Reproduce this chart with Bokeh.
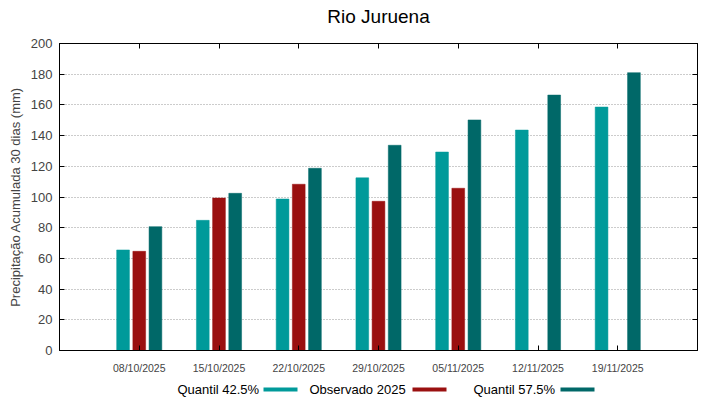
import math
from bokeh.plotting import figure
from bokeh.layouts import column
from bokeh.models import (ColumnDataSource, FactorRange, Range1d, CategoricalAxis,
                          LinearAxis, FixedTicker)
from bokeh.core.properties import value
from bokeh.transform import dodge
from bokeh.embed import file_html
from bokeh.resources import INLINE

nan = float("nan")
title_text = "Rio Juruena"
dates = ["08/10/2025", "15/10/2025", "22/10/2025", "29/10/2025",
         "05/11/2025", "12/11/2025", "19/11/2025"]
q425 = [65.5, 84.8, 98.7, 112.5, 129.3, 143.6, 158.6]
obs2025 = [64.6, 99.3, 108.3, 97.2, 105.7, nan, nan]
q575 = [80.7, 102.4, 118.7, 133.7, 150.2, 166.4, 181.0]
series_names = ["Quantil 42.5%", "Observado 2025", "Quantil 57.5%"]
colors = ["#009a9a", "#9a1010", "#006868"]
yticks = [0, 20, 40, 60, 80, 100, 120, 140, 160, 180, 200]

FONT = "Liberation Sans"
W = 719
BL, BR = 59, 22


def strip(h):
    f = figure(width=W, height=h, x_range=Range1d(BL, W - BR), y_range=Range1d(h, 0),
               output_backend="svg", toolbar_location=None, min_border=0,
               min_border_left=BL, min_border_right=BR,
               x_axis_type=None, y_axis_type=None, title_location=None)
    f.grid.visible = False
    f.outline_line_color = None
    return f


# title strip
TH = 30
tf = strip(TH)
tf.text(x=[(BL + W - BR) / 2], y=[16], text=[title_text], text_font=value(FONT),
        text_font_size="19px", text_color="#000000", text_align="center",
        text_baseline="alphabetic")

src = ColumnDataSource(dict(d=dates, q425=q425, obs=obs2025, q575=q575))

p = figure(width=W, height=346, x_range=FactorRange(*dates, range_padding=1/7),
           y_range=Range1d(0, 200), output_backend="svg", toolbar_location=None,
           min_border_left=BL, min_border_right=BR, min_border_top=13,
           min_border_bottom=26, title_location=None)

w = 0.16
off = 0.203
for col, o, c in zip(["q425", "obs", "q575"], [-off, 0, off], colors):
    p.vbar(x=dodge("d", o, range=p.x_range), top=col, width=w, source=src,
           fill_color=c, line_color=c, line_width=0.5)

p.outline_line_color = "#000000"
p.outline_line_width = 1

p.xgrid.grid_line_color = None
p.ygrid.grid_line_color = "#999999"
p.ygrid.grid_line_dash = "1 2"
p.ygrid.ticker = FixedTicker(ticks=yticks)

ya = p.yaxis[0]
ya.ticker = FixedTicker(ticks=yticks)
ya.axis_label = "Precipitação Acumulada 30 dias (mm)"
ya.axis_label_text_font = FONT
ya.axis_label_text_font_size = "13px"
ya.axis_label_text_font_style = "normal"
ya.axis_label_standoff = 5
ya.major_label_text_font = FONT
ya.major_label_text_font_size = "13px"
ya.major_label_standoff = 7
ya.major_tick_in = 5
ya.major_tick_out = 0
ya.minor_tick_in = 0
ya.minor_tick_out = 0
ya.axis_line_color = "#000000"

xa = p.xaxis[0]
xa.major_label_text_font = FONT
xa.major_label_text_font_size = "10.5px"
xa.major_label_standoff = 11
xa.major_tick_in = 5
xa.major_tick_out = 0
xa.axis_line_color = "#000000"

ra = LinearAxis(ticker=FixedTicker(ticks=yticks),
                major_label_overrides={t: "" for t in yticks},
                major_tick_in=5, major_tick_out=0, minor_tick_in=0, minor_tick_out=0,
                major_label_standoff=0, axis_line_color="#000000")
p.add_layout(ra, "right")
ta = CategoricalAxis(major_label_text_color=None, major_tick_in=5, major_tick_out=0,
                     major_label_standoff=0, axis_line_color="#000000")
p.add_layout(ta, "above")

# legend strip: text followed by a colour swatch (x in page pixels)
leg_text_x = [177, 309, 473]
leg_box_x = [263, 412, 560]
LH = 23
lg = strip(LH)
lsrc = ColumnDataSource(dict(name=series_names, c=colors, tx=leg_text_x,
                             bl=leg_box_x, br=[b + 34 for b in leg_box_x]))
lg.text(x="tx", y=12.5, text="name", source=lsrc, text_font=value(FONT),
        text_font_size="13px", text_color="#000000", text_baseline="alphabetic")
lg.quad(left="bl", right="br", top=11, bottom=15, source=lsrc, fill_color="c",
        line_color=None)

layout = column(tf, p, lg, spacing=0)
open("out.html", "w").write(file_html(layout, INLINE))
